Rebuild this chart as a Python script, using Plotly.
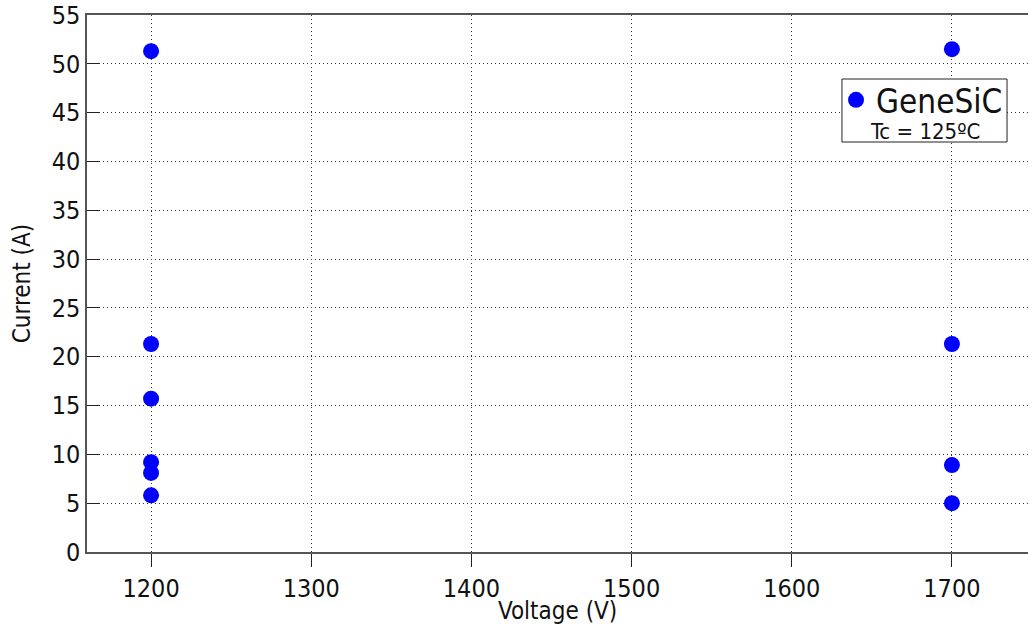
import plotly.graph_objects as go

# Measured operating points (voltage rating vs. current rating)
voltage_1200 = [1200, 1200, 1200, 1200, 1200, 1200]
current_1200 = [51.3, 21.3, 15.7, 9.2, 8.1, 5.8]
voltage_1700 = [1700, 1700, 1700, 1700]
current_1700 = [51.5, 21.3, 8.9, 5.0]

x_ticks = [1200, 1300, 1400, 1500, 1600, 1700]
y_ticks = list(range(0, 56, 5))

FONT = "DejaVu Sans Condensed, DejaVu Sans, Verdana, sans-serif"
BLUE = "#0000ff"

fig = go.Figure()
fig.add_trace(go.Scatter(
    x=voltage_1200 + voltage_1700,
    y=current_1200 + current_1700,
    mode="markers",
    name="GeneSiC",
    marker=dict(color=BLUE, size=16, line=dict(width=0)),
    showlegend=True,
))

axis_common = dict(
    showgrid=True,
    gridcolor="#333333",
    griddash="1px,3px",
    gridwidth=1,
    showline=True,
    linecolor="#555555",
    linewidth=1.5,
    zeroline=False,
    tickcolor="#222222",
    ticklen=13,
    tickwidth=1,
    tickfont=dict(family=FONT, size=25, color="#111111"),
)

fig.update_xaxes(
    **axis_common,
    range=[1160, 1747.5],
    tickvals=x_ticks,
    ticks="outside",
    mirror=True,
)
fig.update_yaxes(
    **axis_common,
    range=[0, 55],
    tickvals=y_ticks,
    ticks="inside",
    ticklabelstandoff=0,
    title=dict(text="Current (A)", font=dict(family=FONT, size=24, color="#111111"), standoff=14),
)

# x-axis title placed just under the tick labels
fig.add_annotation(
    xref="paper", yref="paper", x=0.5, y=-0.11,
    text="Voltage (V)", showarrow=False,
    font=dict(family=FONT, size=24, color="#111111"),
    xanchor="center", yanchor="middle",
)

# Legend frame with the temperature note beneath the series entry
fig.add_shape(
    type="rect", xref="paper", yref="paper",
    x0=0.8023, x1=0.9777, y0=0.7635, y1=0.8808,
    line=dict(color="#222222", width=1), fillcolor="white", layer="above",
)
fig.add_annotation(
    xref="paper", yref="paper", x=0.891, y=0.783,
    text="Tc = 125ºC", showarrow=False,
    font=dict(family=FONT, size=22, color="#111111"),
    xanchor="center", yanchor="middle",
)

fig.update_layout(
    width=1028,
    height=633,
    margin=dict(l=87, r=0, t=15, b=81),
    paper_bgcolor="white",
    plot_bgcolor="white",
    showlegend=True,
    legend=dict(
        x=0.796, y=0.842, xanchor="left", yanchor="middle",
        bgcolor="rgba(0,0,0,0)", borderwidth=0,
        font=dict(family=FONT, size=33, color="#111111"),
        itemwidth=30,
        tracegroupgap=0,
    ),
)

fig.write_html("out.html")
